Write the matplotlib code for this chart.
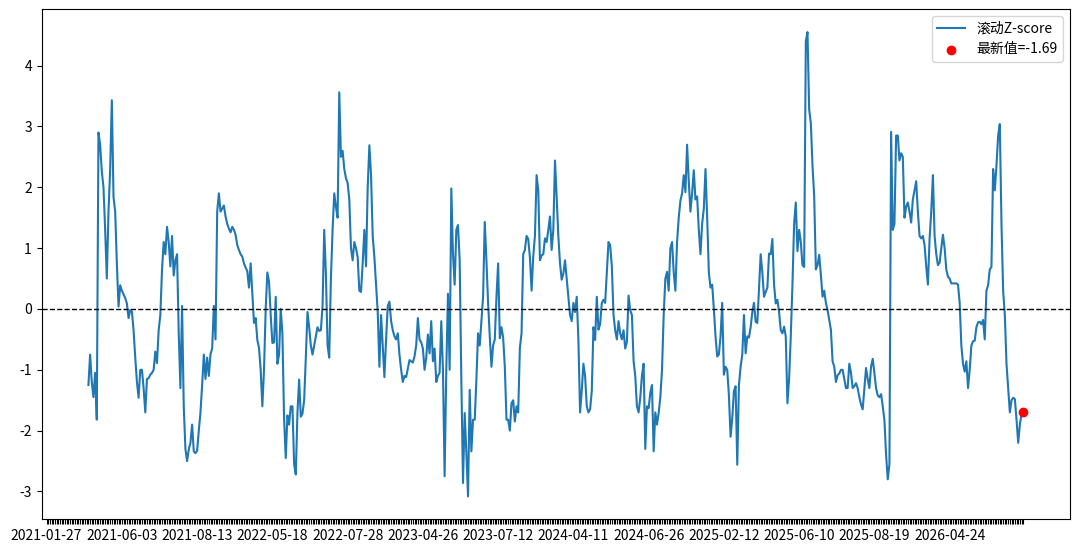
import numpy as np
import matplotlib
matplotlib.use('Agg')
import matplotlib.pyplot as plt

plt.rcParams['font.family'] = ['Noto Sans CJK SC', 'DejaVu Sans']
plt.rcParams['axes.unicode_minus'] = False

# 前25个点为滚动窗口，没有值
warmup = 25

zscore = [
    -1.25, -0.75, -1.2, -1.45, -1.05, -1.82, 2.9, 2.7, 2.26, 2.0,
    1.3, 0.5, 1.6, 2.3, 3.43, 1.84, 1.6, 0.75, 0.04, 0.39,
    0.3, 0.24, 0.18, 0.09, -0.15, -0.02, -0.04, -0.35, -0.8, -1.2,
    -1.46, -1.0, -1.0, -1.3, -1.7, -1.15, -1.14, -1.08, -1.05, -1.0,
    -0.7, -0.89, -0.35, -0.1, 0.64, 1.1, 0.9, 1.35, 1.1, 0.7,
    1.2, 0.55, 0.8, 0.9, -0.4, -1.3, 0.05, -1.6, -2.3, -2.5,
    -2.31, -2.2, -1.9, -2.34, -2.37, -2.33, -2.0, -1.7, -1.25, -0.75,
    -1.15, -0.8, -1.1, -0.74, -0.65, 0.05, -0.5, 1.6, 1.9, 1.6,
    1.65, 1.7, 1.52, 1.4, 1.32, 1.26, 1.35, 1.3, 1.22, 1.05,
    0.97, 0.9, 0.86, 0.75, 0.68, 0.62, 0.35, 0.75, 0.26, -0.23,
    -0.15, -0.51, -0.64, -1.0, -1.6, -1.0, 0.0, 0.6, 0.45, -0.1,
    -0.56, -0.55, 0.2, -0.9, -0.75, 0.0, -0.4, -1.8, -2.45, -1.75,
    -1.9, -1.6, -1.6, -2.55, -2.72, -1.7, -1.16, -1.77, -1.72, -1.5,
    -0.8, -0.05, -0.3, -0.6, -0.75, -0.6, -0.45, -0.3, -0.36, -0.35,
    0.05, 1.3, 0.58, -0.6, -0.8, 0.5, 1.3, 1.9, 1.68, 1.5,
    3.56, 2.5, 2.6, 2.3, 2.15, 2.07, 1.8, 1.0, 0.8, 1.1,
    1.0, 0.85, 0.3, 0.28, 0.75, 1.3, 0.7, 2.0, 2.69, 2.2,
    1.2, 0.85, 0.4, -0.05, -0.95, -0.1, -0.6, -1.12, -0.5, 0.05,
    0.12, -0.2, -0.35, -0.45, -0.5, -0.4, -0.75, -1.0, -1.2, -1.1,
    -1.12, -0.98, -0.84, -0.86, -0.88, -0.78, -0.6, -0.15, -0.5, -0.55,
    -0.65, -1.0, -0.8, -0.42, -0.73, -0.2, -0.86, -0.65, -1.2, -1.1,
    -1.05, -0.2, -1.0, -2.75, -1.0, 0.25, -1.0, 1.98, 0.9, 0.4,
    1.3, 1.38, 0.8, -1.16, -2.86, -1.71, -2.37, -3.08, -1.33, -2.34,
    -1.82, -1.82, -1.16, -0.4, -0.6, -0.2, 0.2, 1.43, 0.8, 0.1,
    -0.45, -0.95, -0.6, -0.5, 0.2, 0.75, -0.48, -0.3, -0.47, -0.95,
    -1.82, -1.82, -2.0, -1.55, -1.5, -1.85, -1.6, -1.7, -0.64, -0.4,
    0.9, 0.97, 1.2, 1.15, 0.85, 0.3, 0.86, 1.2, 2.2, 1.95,
    0.8, 0.88, 0.9, 1.16, 1.1, 1.3, 1.52, 0.97, 1.3, 2.44,
    1.84, 1.2, 0.75, 0.48, 0.58, 0.8, 0.5, 0.2, -0.1, -0.2,
    0.1, -0.05, 0.2, -0.5, -1.7, -1.35, -0.9, -1.1, -1.6, -1.7,
    -1.65, -1.35, -0.3, -0.51, 0.2, -0.34, -0.25, 0.1, 0.15, 0.1,
    0.6, 1.1, 1.05, 0.7, -0.1, -0.35, -0.5, -0.2, -0.4, -0.5,
    -0.35, -0.65, -0.54, 0.22, -0.02, -0.1, -0.86, -1.1, -1.6, -1.7,
    -1.45, -1.1, -0.9, -2.3, -1.6, -1.63, -1.38, -1.25, -2.34, -1.7,
    -1.9, -1.71, -1.45, -1.0, -0.1, 0.5, 0.61, 0.3, 1.0, 1.1,
    0.6, 0.3, 1.1, 1.5, 1.78, 1.9, 2.2, 1.92, 2.7, 2.1,
    1.6, 1.9, 2.28, 1.8, 1.85, 1.3, 0.9, 1.4, 1.65, 2.3,
    1.51, 0.6, 0.35, 0.4, 0.0, -0.45, -0.78, -0.75, -0.45, 0.1,
    -1.08, -0.95, -1.0, -1.42, -2.1, -1.8, -1.35, -1.27, -2.56, -1.25,
    -0.95, -0.75, -0.1, -0.73, -0.45, -0.47, -0.3, -0.05, 0.1, -0.21,
    -0.23, 0.35, 0.9, 0.6, 0.2, 0.28, 0.35, 0.91, 0.9, 1.15,
    0.4, 0.09, 0.15, -0.05, -0.35, -0.4, -0.29, -0.45, -1.55, -1.15,
    -0.45, 0.4, 1.4, 1.75, 0.95, 1.3, 1.1, 0.72, 0.69, 4.4,
    4.55, 3.28, 3.05, 2.35, 1.86, 0.65, 0.72, 0.89, 0.56, 0.2,
    0.3, 0.1, -0.02, -0.18, -0.34, -0.86, -0.95, -1.2, -1.09, -1.06,
    -1.0, -1.0, -1.15, -1.3, -1.3, -0.9, -1.05, -1.3, -1.27, -1.22,
    -1.3, -1.45, -1.57, -1.65, -1.3, -0.97, -1.15, -1.3, -0.95, -0.82,
    -1.05, -1.3, -1.42, -1.45, -1.4, -1.6, -1.83, -2.4, -2.8, -2.55,
    2.91, 1.3, 1.4, 2.85, 2.85, 2.44, 2.56, 2.5, 1.5, 1.68,
    1.75, 1.6, 1.42, 1.8, 1.95, 2.1, 1.6, 1.2, 1.16, 1.2,
    1.05, 0.7, 0.4, 1.15, 1.6, 2.2, 1.2, 0.9, 0.72, 0.76,
    1.0, 1.22, 1.0, 0.65, 0.53, 0.5, 0.42, 0.42, 0.42, 0.42,
    0.4, 0.1, -0.6, -0.9, -1.03, -0.86, -1.3, -1.0, -0.6, -0.53,
    -0.52, -0.3, -0.22, -0.21, -0.25, -0.18, -0.5, 0.3, 0.39, 0.65,
    0.69, 2.3, 1.95, 2.35, 2.85, 3.04, 1.4, 0.3, -0.1, -0.9,
    -1.3, -1.7, -1.5, -1.46, -1.48, -1.82, -2.2, -1.9, -1.72, -1.69,
]

label_dates = ['2021-01-27', '2021-06-03', '2021-08-13', '2022-05-18',
               '2022-07-28', '2023-04-26', '2023-07-12', '2024-04-11',
               '2024-06-26', '2025-02-12', '2025-06-10', '2025-08-19',
               '2026-04-24']
label_step = 45

z = np.concatenate([np.full(warmup, np.nan), np.array(zscore)])
x = np.arange(len(z))

fig, ax = plt.subplots(figsize=(10.8, 5.52), dpi=100)
ax.plot(x, z, label='滚动Z-score')
ax.axhline(0, color='black', linestyle='--', linewidth=1)
ax.scatter(x[-1], z[-1], color='red', zorder=5, label=f'最新值={z[-1]:.2f}')

labels = [''] * len(x)
for k, d in enumerate(label_dates):
    if k * label_step < len(x):
        labels[k * label_step] = d
ax.set_xticks(x)
ax.set_xticklabels(labels, fontsize=10)
ax.tick_params(axis='y', labelsize=10)
ax.set_ylim(-3.46, 4.93)
ax.legend(loc='upper right')

fig.subplots_adjust(left=0.0386, right=0.9907, top=0.9837, bottom=0.0589)
fig.savefig('out.png')
